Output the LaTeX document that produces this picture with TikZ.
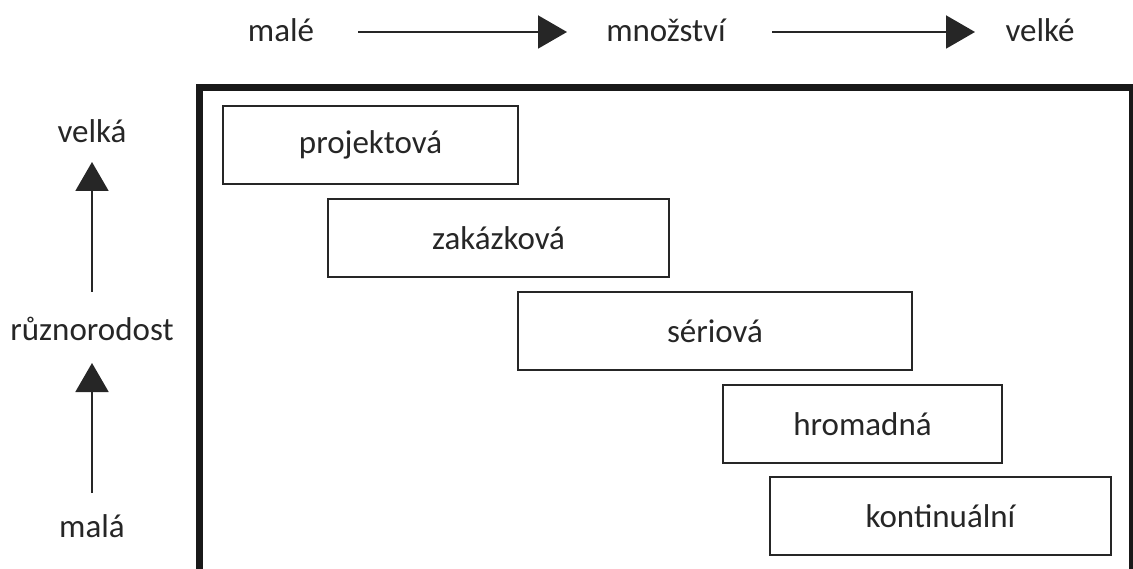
\documentclass[tikz,border=0pt]{standalone}
\usepackage{fontspec}
\setmainfont{Carlito}
\usetikzlibrary{arrows.meta}
\begin{document}
\begin{tikzpicture}[x=1pt,y=-1pt,
  lbl/.style={inner sep=0pt, font=\fontsize{33}{38}\selectfont, text=black!85},
  typebox/.style={draw=black!85, line width=2.5pt, inner sep=0pt, font=\fontsize{33}{38}\selectfont, text=black!85},
  axis/.style={line width=2pt, draw=black!85, -{Triangle[length=29pt,width=33pt]}}]
\useasboundingbox (0,0) rectangle (1133,569);
\clip (0,0) rectangle (1133,569);
% frame
\draw[line width=7pt, black!90] (199.5,600) -- (199.5,87.5) -- (1132.5,87.5) -- (1132.5,600);
% boxes
\node[typebox, minimum width=295pt, minimum height=78pt] (p) at (370.5,145) {projektová};
\node[typebox, minimum width=341pt, minimum height=78pt] (z) at (498.5,238) {zakázková};
\node[typebox, minimum width=394pt, minimum height=78pt] (s) at (715,331) {sériová};
\node[typebox, minimum width=279pt, minimum height=78pt] (h) at (862.5,424) {hromadná};
\node[typebox, minimum width=341pt, minimum height=78pt] (k) at (940.5,516) {kontinuální};
% top axis
\node[lbl] (male) at (281,30) {malé};
\node[lbl] (mnoz) at (666,30) {množství};
\node[lbl] (velke) at (1040,30) {velké};
\coordinate (a1s) at (358,32);
\coordinate (a1e) at (567,32);
\coordinate (a2s) at (772,32);
\coordinate (a2e) at (975,32);
\draw[axis] (a1s) -- (a1e);
\draw[axis] (a2s) -- (a2e);
% left axis
\node[lbl] (velka) at (92,131) {velká};
\node[lbl] (ruzn) at (92,329) {různorodost};
\node[lbl] (mala) at (92,526) {malá};
\coordinate (b1s) at (92,292);
\coordinate (b1e) at (92,162);
\coordinate (b2s) at (92,493);
\coordinate (b2e) at (92,363);
\draw[axis] (b1s) -- (b1e);
\draw[axis] (b2s) -- (b2e);
\end{tikzpicture}
\end{document}
